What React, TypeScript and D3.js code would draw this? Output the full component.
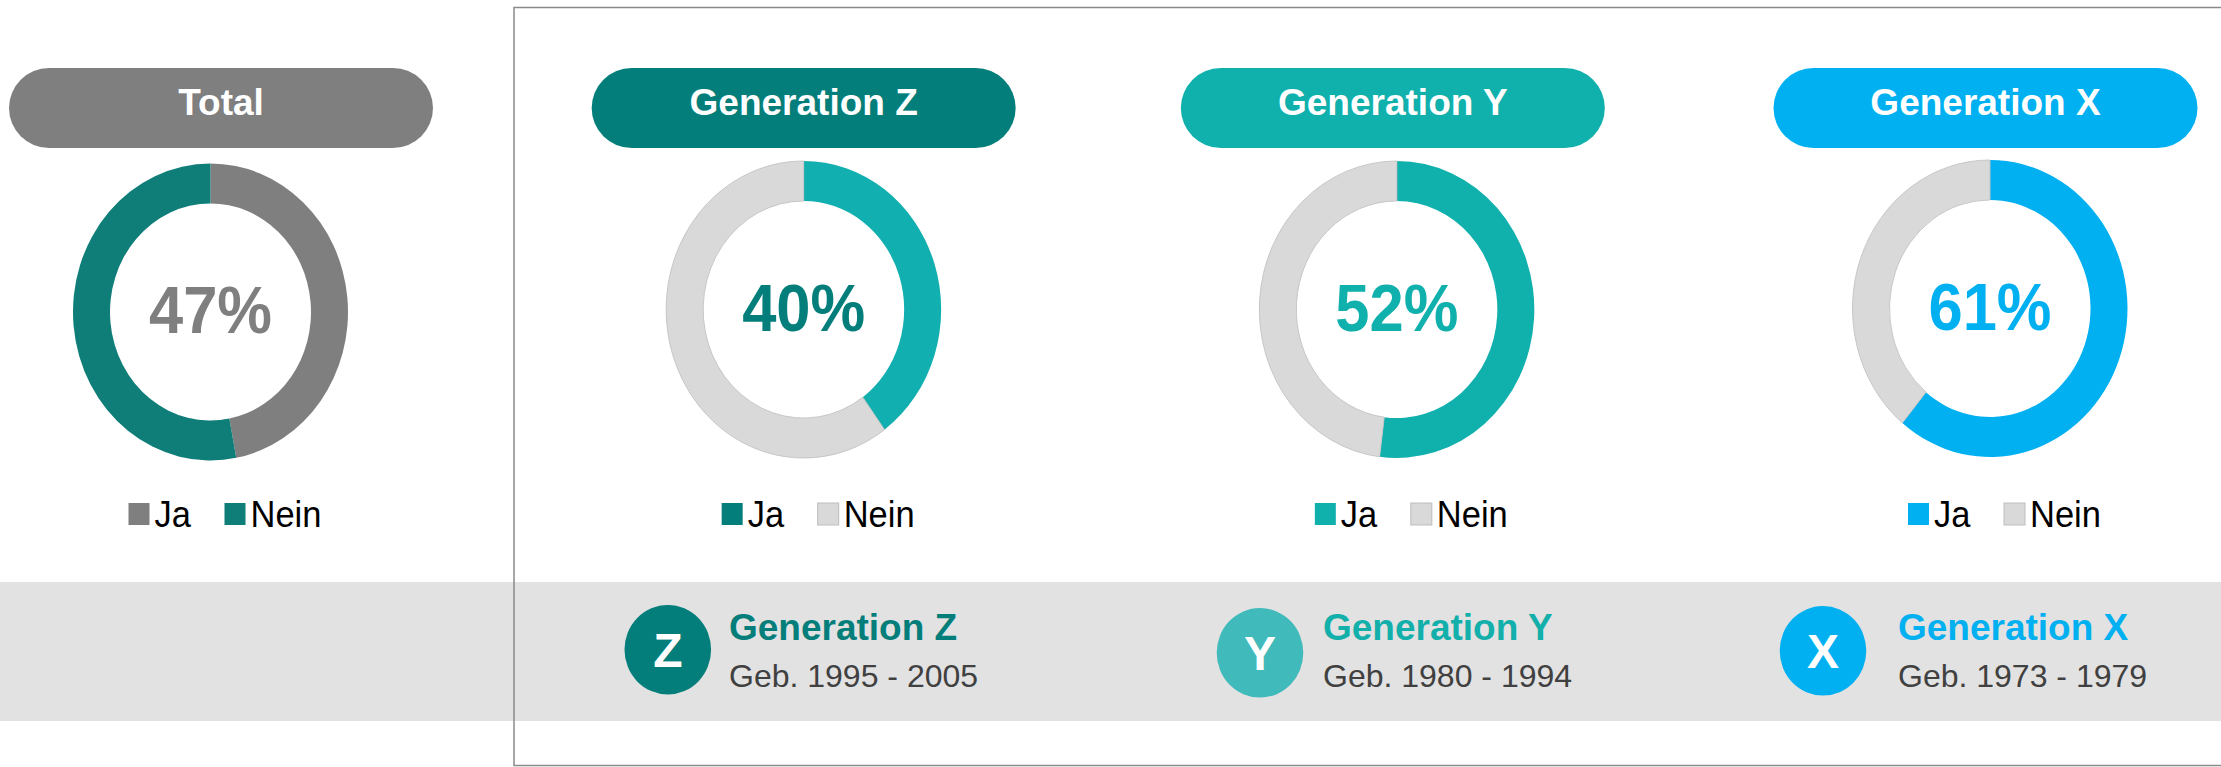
import React from 'react';
import * as d3 from 'd3';

const groups = ['Total', 'Generation Z', 'Generation Y', 'Generation X'];
const jaValues = [47, 40, 52, 61];
const neinValues = [53, 60, 48, 39];
const legendLabels = ['Ja', 'Nein'];
const genLetters = ['Z', 'Y', 'X'];
const genNames = ['Generation Z', 'Generation Y', 'Generation X'];
const genYears = ['Geb. 1995 - 2005', 'Geb. 1980 - 1994', 'Geb. 1973 - 1979'];

// styles
const pillColors = ['#7f7f7f', '#037e7a', '#10b0ad', '#00b0f0'];
const jaSliceColors = ['#7f7f7f', '#12afb0', '#10b0ad', '#00b0f0'];
const neinSliceColors = ['#0f7e79', '#d9d9d9', '#d9d9d9', '#d9d9d9'];
const jaLegendColors = ['#7f7f7f', '#037e7a', '#10b0ad', '#00b0f0'];
const pctColors = ['#7f7f7f', '#037e7a', '#10b0ad', '#00b0f0'];
const genCircleColors = ['#037e7a', '#40baba', '#00b0f0'];
const genTitleColors = ['#037e7a', '#12afab', '#00b0f0'];

const W = 2221;
const H = 767;
const FONT = '"Liberation Sans", Arial, Helvetica, sans-serif';

const xScale = d3.scalePoint<string>().domain(groups).range([210.5, 1990]);
const pillOffsets = [10.5, 0, -4, -4.5];
const donutCy = [312, 309.5, 309.5, 308.5];
const genCircleX = [667.8, 1260, 1823];
const genCircleY = [649.7, 652.8, 650.8];
const genTextX = [729, 1323, 1898];

const R_OUT = 137.5;
const R_IN = 100.5;
const STRETCH = 1.08;

export default function App() {
  const pie = d3.pie<number>().sort(null).value((d) => d);
  const arc = d3.arc<d3.PieArcDatum<number>>().innerRadius(R_IN).outerRadius(R_OUT);

  return (
    <svg
      width={W}
      height={H}
      style={{ position: 'absolute', left: 0, top: 0, background: '#fff' }}
      fontFamily={FONT}
    >
      <rect x={0} y={0} width={W} height={H} fill="#ffffff" />
      {/* bottom band */}
      <rect x={0} y={582} width={W} height={139} fill="#e2e2e2" />
      {/* generations panel border */}
      <rect x={514} y={7.5} width={W} height={758} fill="none" stroke="#8a8a8a" strokeWidth={1.5} />

      {groups.map((g, i) => {
        const cx = xScale(g)!;
        const cy = donutCy[i];
        const arcs = pie([jaValues[i], neinValues[i]]);
        const pillCx = cx + pillOffsets[i];
        return (
          <g key={g}>
            <rect x={pillCx - 212} y={68} width={424} height={80} rx={40} ry={40} fill={pillColors[i]} />
            <text
              x={pillCx}
              y={115}
              textAnchor="middle"
              fill="#ffffff"
              fontWeight="bold"
              fontSize={37}
            >
              {g}
            </text>
            <g transform={`translate(${cx},${cy}) scale(1,${STRETCH})`}>
              {arcs.map((a, j) => {
                const fill = j === 0 ? jaSliceColors[i] : neinSliceColors[i];
                const light = fill === '#d9d9d9';
                return (
                  <path
                    key={j}
                    d={arc(a) || ''}
                    fill={fill}
                    stroke={light ? '#c4c4c4' : 'none'}
                    strokeWidth={light ? 0.9 : 0}
                  />
                );
              })}
            </g>
            <text
              transform={`translate(${cx},${cy + 21}) scale(1,${STRETCH})`}
              textAnchor="middle"
              fill={pctColors[i]}
              fontWeight="bold"
              fontSize={61.5}
            >
              {`${jaValues[i]}%`}
            </text>
            {/* legend */}
            {legendLabels.map((lab, j) => {
              const sx = cx + (j === 0 ? -82 : 14);
              const fill = j === 0 ? jaLegendColors[i] : neinSliceColors[i];
              const light = fill === '#d9d9d9';
              return (
                <g key={lab}>
                  <rect
                    x={sx}
                    y={503}
                    width={21}
                    height={22}
                    fill={fill}
                    stroke={light ? '#bdbdbd' : 'none'}
                    strokeWidth={light ? 1 : 0}
                  />
                  <text
                    transform={`translate(${sx + 26},${527}) scale(1,${STRETCH})`}
                    fill="#000000"
                    fontSize={34.5}
                  >
                    {lab}
                  </text>
                </g>
              );
            })}
          </g>
        );
      })}

      {genLetters.map((l, k) => (
        <g key={l}>
          <ellipse cx={genCircleX[k]} cy={genCircleY[k]} rx={43.3} ry={44.8} fill={genCircleColors[k]} />
          <text
            x={genCircleX[k]}
            y={genCircleY[k] + 17}
            textAnchor="middle"
            fill="#ffffff"
            fontWeight="bold"
            fontSize={48}
          >
            {l}
          </text>
          <text x={genTextX[k]} y={640} fill={genTitleColors[k]} fontWeight="bold" fontSize={37}>
            {genNames[k]}
          </text>
          <text x={genTextX[k]} y={687} fill="#404040" fontSize={32}>
            {genYears[k]}
          </text>
        </g>
      ))}
    </svg>
  );
}
